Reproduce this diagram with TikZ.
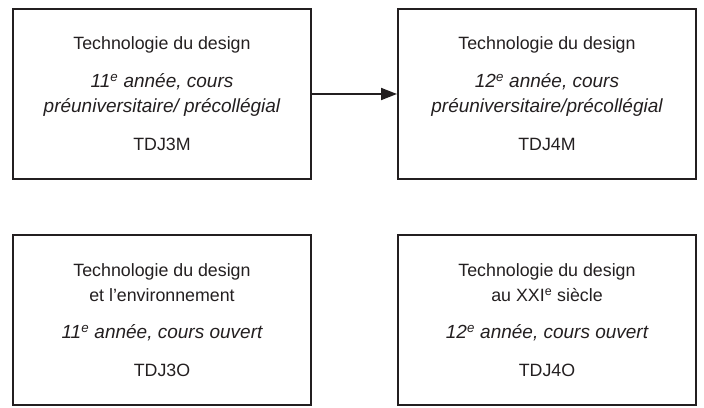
\documentclass[tikz,border=0pt]{standalone}
\usepackage{fontspec}
\setmainfont{Liberation Sans}
\usetikzlibrary{arrows.meta}
\definecolor{ink}{HTML}{231F20}
\newcommand{\itl}[1]{{\fontsize{19}{25}\selectfont\itshape #1}}
\begin{document}
\begin{tikzpicture}[x=1pt,y=1pt,
  coursebox/.style={draw=ink, line width=2pt, minimum width=298pt, minimum height=170pt,
    inner sep=0pt, align=center, text=ink, font=\fontsize{17.8}{25}\selectfont},
  link/.style={draw=ink, line width=1.8pt, -{Triangle[length=16pt,width=12pt]}}]
\useasboundingbox (0,0) rectangle (704,407);
\node[coursebox] (tdj3m) at (162,313) {Technologie du design\\[13pt]
  \itl{11\textsuperscript{e} année, cours}\\
  \itl{préuniversitaire/ précollégial}\\[13pt]
  TDJ3M};
\node[coursebox] (tdj4m) at (547,313) {Technologie du design\\[13pt]
  \itl{12\textsuperscript{e} année, cours}\\
  \itl{préuniversitaire/précollégial}\\[13pt]
  TDJ4M};
\node[coursebox] (tdj3o) at (162,87) {Technologie du design\\
  et l’environnement\\[12pt]
  \itl{11\textsuperscript{e} année, cours ouvert}\\[13pt]
  TDJ3O};
\node[coursebox] (tdj4o) at (547,87) {Technologie du design\\
  au XXI\textsuperscript{e} siècle\\[12pt]
  \itl{12\textsuperscript{e} année, cours ouvert}\\[13pt]
  TDJ4O};
\draw[link] (tdj3m.east) -- (tdj4m.west);
\end{tikzpicture}
\end{document}
